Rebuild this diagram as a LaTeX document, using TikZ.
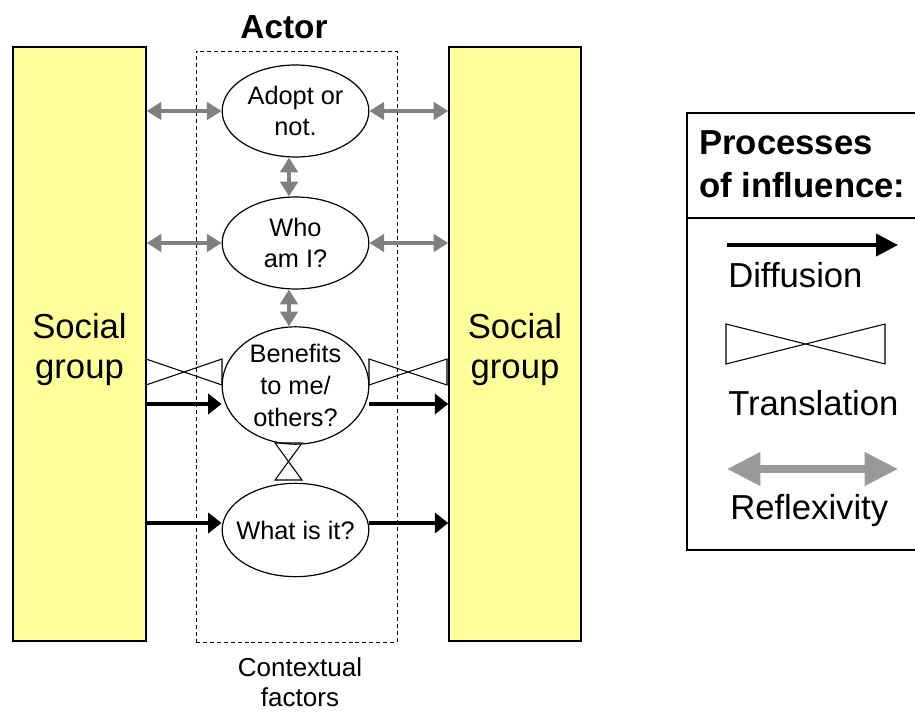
\documentclass[tikz,border=0pt]{standalone}
\usepackage{fontspec}
\setmainfont{Liberation Sans}
\usetikzlibrary{shapes.geometric,arrows.meta}
\definecolor{groupyellow}{HTML}{FFFF99}
\definecolor{refgray}{HTML}{808080}
\definecolor{legendgray}{HTML}{999999}
\begin{document}
\begin{tikzpicture}[x=0.75pt,y=-0.75pt,
  social/.style={draw, line width=1.1pt, fill=groupyellow, inner sep=0pt,
    label={[align=center, font=\fontsize{26}{30}\selectfont, yshift=-4pt]center:Social\\group}},
  thought/.style={draw, ellipse, line width=0.9pt, inner sep=0pt,
    minimum width=110pt, minimum height=69pt, align=center,
    font=\fontsize{19}{23.5}\selectfont},
  refl/.style={draw=refgray, line width=3.6pt,
    {Triangle[length=11pt,width=13pt]}-{Triangle[length=11pt,width=13pt]}},
  diff/.style={draw=black, line width=2.6pt,
    -{Triangle[length=10pt,width=15pt]}},
  tie/.style={draw=black, line width=0.8pt, line join=miter},
  legendtext/.style={anchor=base west, inner sep=0pt, font=\fontsize{26}{31}\selectfont}
]
\useasboundingbox (0,0) rectangle (915,713);

% social groups on both sides
\node[social, minimum width=99.75pt, minimum height=445.5pt] (lg) at (79.5,344) {};
\node[social, minimum width=99pt, minimum height=445.5pt] (rg) at (515,344) {};

% the actor with contextual factors
\node[draw, dashed, dash pattern=on 3pt off 2.2pt, line width=0.7pt, inner sep=0pt,
      minimum width=150.75pt, minimum height=443.25pt] (ctx) at (296.5,346.5) {};
\node[font=\bfseries\fontsize{25}{30}\selectfont] (actor) at (284,27) {Actor};
\node[align=center, font=\fontsize{19.5}{22.5}\selectfont] (ctxlabel) at (300,682) {Contextual\\factors};

% the actor's questions
\node[thought] (adopt) at (295.5,111) {Adopt or\\not.};
\node[thought] (who) at (295.5,243) {Who\\am I?};
\node[thought, minimum height=88pt, font=\fontsize{19}{24}\selectfont] (ben) at (295.5,385.5) {Benefits\\to me/\\others?};
\node[thought, inner xsep=-14pt, minimum height=70pt] (what) at (295.5,530) {What is it?};

% reflexivity
\draw[refl] (lg.east |- adopt.west) -- (adopt.west);
\draw[refl] (adopt.east) -- (rg.west |- adopt.east);
\draw[refl] (lg.east |- who.west) -- (who.west);
\draw[refl] (who.east) -- (rg.west |- who.east);
\draw[refl] (adopt.south -| 289,0) -- (who.north -| 289,0);
\draw[refl] (who.south -| 289,0) -- (ben.north -| 289,0);

% translation
\coordinate (tlA) at (146,359); \coordinate (tlB) at (146,385);
\coordinate (tlC) at (222,359); \coordinate (tlD) at (222,385);
\draw[tie] (tlA) -- (tlD) -- (tlC) -- (tlB) -- cycle;
\coordinate (trA) at (369,359); \coordinate (trB) at (369,385);
\coordinate (trC) at (447,359); \coordinate (trD) at (447,385);
\draw[tie] (trA) -- (trD) -- (trC) -- (trB) -- cycle;
\coordinate (tvA) at (275,443); \coordinate (tvB) at (302,443);
\coordinate (tvC) at (275,480); \coordinate (tvD) at (302,480);
\draw[tie] (tvA) -- (tvD) -- (tvC) -- (tvB) -- cycle;

% diffusion
\draw[diff] (lg.east |- 0,404) -- (ben.west |- 0,404);
\draw[diff] (ben.east |- 0,404) -- (rg.west |- 0,404);
\draw[diff] (lg.east |- 0,523) -- (what.west |- 0,523);
\draw[diff] (what.east |- 0,523) -- (rg.west |- 0,523);

% legend
\draw[line width=0.9pt] (687,113) rectangle (940,550);
\draw[line width=0.9pt] (687,218) -- (940,218);
\node[anchor=base west, inner sep=0pt, font=\bfseries\fontsize{26}{31}\selectfont] (lgt1) at (699,155) {Processes};
\node[anchor=base west, inner sep=0pt, font=\bfseries\fontsize{26}{31}\selectfont] (lgt2) at (699,198) {of influence:};
\coordinate (ldA) at (727,245); \coordinate (ldB) at (898,245);
\draw[line width=3pt, -{Triangle[length=16.5pt,width=16.5pt]}] (ldA) -- (ldB);
\node[legendtext] (ldiff) at (728,288) {Diffusion};
\coordinate (ltA) at (726,324); \coordinate (ltB) at (726,364);
\coordinate (ltC) at (885,324); \coordinate (ltD) at (885,364);
\draw[tie] (ltA) -- (ltD) -- (ltC) -- (ltB) -- cycle;
\node[legendtext] (ltrans) at (728,415) {Translation};
\coordinate (lrA) at (727,469); \coordinate (lrB) at (898,469);
\draw[draw=legendgray, line width=5.3pt,
  {Triangle[length=25pt,width=24pt]}-{Triangle[length=25pt,width=24pt]}] (lrA) -- (lrB);
\node[legendtext] (lrefl) at (730,519) {Reflexivity};
\end{tikzpicture}
\end{document}
